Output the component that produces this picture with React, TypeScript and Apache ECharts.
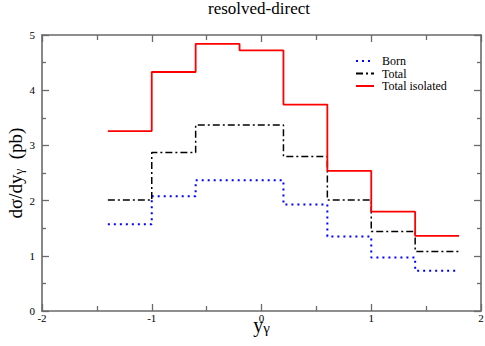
import React, { useEffect, useRef } from "react";
import * as echarts from "echarts";

const binEdges = [-1.4, -1.0, -0.6, -0.2, 0.2, 0.6, 1.0, 1.4, 1.8];
const born = [1.57, 2.08, 2.37, 2.37, 1.93, 1.35, 0.97, 0.73];
const total = [2.01, 2.87, 3.37, 3.37, 2.80, 2.01, 1.44, 1.08];
const totalIsolated = [3.26, 4.33, 4.84, 4.72, 3.74, 2.54, 1.80, 1.36];
const xTicks = [-2, -1, 0, 1, 2];
const yTicks = [0, 1, 2, 3, 4, 5];

const serif = "'Liberation Serif', 'DejaVu Serif', serif";

function stepData(vals: number[]) {
  const pts: [number, number][] = vals.map((v, i) => [binEdges[i], v]);
  pts.push([binEdges[binEdges.length - 1], vals[vals.length - 1]]);
  return pts;
}

export default function App() {
  const ref = useRef<HTMLDivElement>(null);
  useEffect(() => {
    if (!ref.current) return;
    const chart = echarts.init(ref.current, undefined, { renderer: "svg" });
    const axisColor = "#6a6a6a";
    const baseX = {
      type: "value" as const,
      min: -2,
      max: 2,
      interval: 1,
      splitLine: { show: false },
      axisLine: { show: true, onZero: false, lineStyle: { color: axisColor, width: 1.6 } },
      axisTick: { show: true, inside: true, length: 7, lineStyle: { color: axisColor, width: 1.3 } },
      minorTick: { show: true, splitNumber: 2, length: 5, lineStyle: { color: axisColor, width: 1.3 } },
    };
    const baseY = {
      type: "value" as const,
      min: 0,
      max: 5,
      interval: 1,
      splitLine: { show: false },
      axisLine: { show: true, onZero: false, lineStyle: { color: axisColor, width: 1.6 } },
      axisTick: { show: true, inside: true, length: 7, lineStyle: { color: axisColor, width: 1.3 } },
      minorTick: { show: true, splitNumber: 2, length: 4, lineStyle: { color: axisColor, width: 1.3 } },
    };
    chart.setOption({
      animation: false,
      backgroundColor: "#ffffff",
      title: {
        text: "resolved-direct",
        left: 259,
        top: 0,
        padding: 0,
        textAlign: "center",
        textStyle: { fontFamily: serif, fontWeight: "normal", fontSize: 17, color: "#000" },
      },
      grid: { left: 42, right: 4, top: 35, bottom: 35, containLabel: false, outerBoundsMode: "none" },
      legend: {
        orient: "vertical",
        left: 355,
        top: 55,
        padding: 0,
        itemWidth: 18,
        itemHeight: 12,
        itemGap: 0.5,
        itemStyle: { opacity: 0 },
        textStyle: { fontFamily: serif, fontSize: 12, color: "#000", padding: [0, 0, 0, 3] },
        data: ["Born", "Total", "Total isolated"],
      },
      xAxis: [
        {
          ...baseX,
          position: "bottom",
          axisLabel: {
            show: true,
            margin: 1,
            lineHeight: 11,
            fontFamily: serif,
            fontSize: 11,
            color: "#000",
            formatter: (v: number) => (xTicks.includes(v) ? String(v) : ""),
          },
          name: "{a|y}{b|γ}",
          nameLocation: "middle",
          nameGap: 4,
          nameMoveOverlap: false,
          nameTextStyle: {
            rich: {
              a: { fontFamily: serif, fontSize: 20, lineHeight: 20, color: "#000", verticalAlign: "top" },
              b: { fontFamily: serif, fontSize: 15, lineHeight: 15, color: "#000", verticalAlign: "bottom", padding: [10, 0, 0, 0] },
            },
          },
        },
        { ...baseX, position: "top", axisLabel: { show: false } },
      ],
      yAxis: [
        {
          ...baseY,
          position: "left",
          axisLabel: {
            show: true,
            margin: 7,
            fontFamily: serif,
            fontSize: 11,
            color: "#000",
            formatter: (v: number) => (yTicks.includes(v) ? String(v) : ""),
          },
          name: "{a|dσ/dy}{b|γ}{a|  (pb)}",
          nameLocation: "middle",
          nameRotate: 90,
          nameGap: 17,
          nameMoveOverlap: false,
          nameTextStyle: {
            rich: {
              a: { fontFamily: serif, fontSize: 19, lineHeight: 19, color: "#000", verticalAlign: "top" },
              b: { fontFamily: serif, fontSize: 13, lineHeight: 13, color: "#000", verticalAlign: "bottom", padding: [9, 0, 0, 0] },
            },
          },
        },
        { ...baseY, position: "right", axisLabel: { show: false } },
      ],
      series: [
        {
          name: "Born",
          type: "line",
          step: "end",
          symbol: "none",
          data: stepData(born),
          lineStyle: { color: "#0000ff", width: 2, type: [2, 4] },
          itemStyle: { color: "#0000ff" },
        },
        {
          name: "Total",
          type: "line",
          step: "end",
          symbol: "none",
          data: stepData(total),
          lineStyle: { color: "#000000", width: 1.5, type: [7, 3, 2, 3] },
          itemStyle: { color: "#000000" },
        },
        {
          name: "Total isolated",
          type: "line",
          step: "end",
          symbol: "none",
          data: stepData(totalIsolated),
          lineStyle: { color: "#ff0000", width: 1.8 },
          itemStyle: { color: "#ff0000" },
        },
      ],
    });
    return () => chart.dispose();
  }, []);
  return <div ref={ref} style={{ width: 485, height: 346, position: "absolute", left: 0, top: 0 }} />;
}
